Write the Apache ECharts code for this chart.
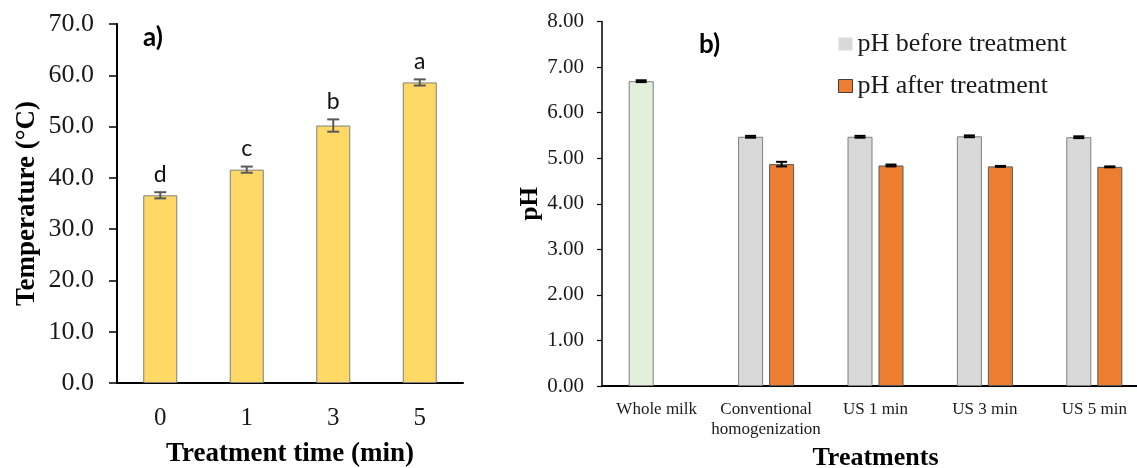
<!DOCTYPE html>
<html>
<head>
<meta charset="utf-8">
<script src="https://cdn.jsdelivr.net/npm/echarts@6/dist/echarts.min.js"></script>
<style>
html,body{margin:0;padding:0;background:#fff;}
#chart{width:1137px;height:468px;}
</style>
</head>
<body>
<div id="chart"></div>
<script>
// ---- Panel a) data ----
const tempCategories = ['0', '1', '3', '5'];
const tempValues = [36.6, 41.6, 50.2, 58.6];
const tempErrors = [0.6, 0.6, 1.2, 0.6];
const tempLetters = ['d', 'c', 'b', 'a'];

// ---- Panel b) data ----
const phCategories = ['Whole milk', 'Conventional\nhomogenization', 'US 1 min', 'US 3 min', 'US 5 min'];
const phBefore = [6.69, 5.47, 5.47, 5.48, 5.46];
const phBeforeErr = [0.02, 0.02, 0.02, 0.02, 0.02];
const phAfter = [null, 4.87, 4.84, 4.82, 4.81];
const phAfterErr = [null, 0.05, 0.02, 0.01, 0.01];

const serif = 'Liberation Serif';
const txt = '#1a1a1a';

function errRender(offset, capW, color, lw) {
  return function (params, api) {
    const cat = api.value(0), v = api.value(1), e = api.value(2);
    const c = api.coord([cat, v]);
    const x = c[0] + offset;
    const top = api.coord([cat, v + e])[1];
    const bot = api.coord([cat, v - e])[1];
    const st = { stroke: color, lineWidth: lw };
    return {
      type: 'group',
      children: [
        { type: 'line', shape: { x1: x, y1: top, x2: x, y2: bot }, style: st },
        { type: 'line', shape: { x1: x - capW / 2, y1: top, x2: x + capW / 2, y2: top }, style: st },
        { type: 'line', shape: { x1: x - capW / 2, y1: bot, x2: x + capW / 2, y2: bot }, style: st }
      ]
    };
  };
}

function errData(vals, errs) {
  const out = [];
  vals.forEach((v, i) => { if (v != null) out.push([i, v, errs[i]]); });
  return out;
}

const chart = echarts.init(document.getElementById('chart'));
chart.setOption({
  animation: false,
  backgroundColor: '#fff',
  grid: [
    { left: 117, top: 24, width: 346, height: 359, containLabel: false, outerBoundsMode: 'none' },
    { left: 602, top: 21.5, width: 547, height: 364.5, containLabel: false, outerBoundsMode: 'none' }
  ],
  legend: {
    data: [
      { name: 'pH before treatment', itemStyle: { borderWidth: 0 } },
      { name: 'pH after treatment', itemStyle: { borderColor: '#404040', borderWidth: 1 } }
    ],
    orient: 'vertical',
    left: 833, top: 26,
    itemWidth: 14, itemHeight: 13, itemGap: 16, itemTextGap: 4,
    icon: 'rect',
    textStyle: { fontFamily: serif, fontSize: 26, color: txt }
  },
  xAxis: [
    {
      gridIndex: 0, type: 'category', data: tempCategories,
      axisLine: { lineStyle: { color: '#000', width: 2 } },
      axisTick: { show: false },
      axisLabel: { fontFamily: serif, fontSize: 25, color: txt, margin: 23 },
      name: 'Treatment time (min)', nameLocation: 'middle', nameGap: 58,
      nameTextStyle: { fontFamily: serif, fontSize: 27, fontWeight: 'bold', color: '#000' }
    },
    {
      gridIndex: 1, type: 'category', data: phCategories,
      axisLine: { lineStyle: { color: '#000', width: 2 } },
      axisTick: { show: false },
      axisLabel: { fontFamily: serif, fontSize: 17, color: txt, margin: 14, lineHeight: 20, interval: 0 },
      name: 'Treatments', nameLocation: 'middle', nameGap: 59,
      nameTextStyle: { fontFamily: serif, fontSize: 26, fontWeight: 'bold', color: '#000' }
    }
  ],
  yAxis: [
    {
      gridIndex: 0, type: 'value', min: 0, max: 70, interval: 10,
      axisLine: { show: true, lineStyle: { color: '#000', width: 2 } },
      axisTick: { show: true, length: 8, lineStyle: { color: '#000', width: 1.5 } },
      splitLine: { show: false },
      axisLabel: { fontFamily: serif, fontSize: 26, color: txt, margin: 23, formatter: v => v.toFixed(1) },
      name: 'Temperature (°C)', nameLocation: 'middle', nameGap: 76, nameRotate: 90,
      nameTextStyle: { fontFamily: serif, fontSize: 27, fontWeight: 'bold', color: '#000' }
    },
    {
      gridIndex: 1, type: 'value', min: 0, max: 8, interval: 1,
      axisLine: { show: true, lineStyle: { color: '#000', width: 1.5 } },
      axisTick: { show: true, length: 5, lineStyle: { color: '#000', width: 1.2 } },
      splitLine: { show: false },
      axisLabel: { fontFamily: serif, fontSize: 21, color: txt, margin: 18, formatter: v => v.toFixed(2) },
      name: 'pH', nameLocation: 'middle', nameGap: 56, nameRotate: 90,
      nameTextStyle: { fontFamily: serif, fontSize: 25, fontWeight: 'bold', color: '#000' }
    }
  ],
  graphic: [
    { type: 'text', left: 143, top: 25, style: { text: 'a)', font: 'bold 26px Lato', fill: '#000' } },
    { type: 'text', left: 699, top: 32, style: { text: 'b)', font: 'bold 26px Lato', fill: '#000' } }
  ],
  series: [
    {
      type: 'bar', xAxisIndex: 0, yAxisIndex: 0, data: tempValues, barWidth: 34,
      itemStyle: { color: '#FFD966', borderColor: '#7F7F7F', borderWidth: 1 }
    },
    {
      type: 'custom', xAxisIndex: 0, yAxisIndex: 0, z: 5,
      data: errData(tempValues, tempErrors),
      renderItem: errRender(0, 12, '#595959', 2)
    },
    {
      type: 'custom', xAxisIndex: 0, yAxisIndex: 0, z: 5,
      data: tempValues.map((v, i) => [i, v + tempErrors[i]]),
      renderItem: function (params, api) {
        const c = api.coord([api.value(0), api.value(1)]);
        return {
          type: 'text',
          style: { text: tempLetters[params.dataIndex], x: c[0], y: c[1] - 18, align: 'center', verticalAlign: 'middle', font: '23px Lato', fill: '#111' }
        };
      }
    },
    {
      name: 'pH before treatment', type: 'bar', xAxisIndex: 1, yAxisIndex: 1,
      barWidth: 25, barGap: '24%',
      data: phBefore.map((v, i) => i === 0 ? { value: v, itemStyle: { color: '#E2EFDA' } } : v),
      itemStyle: { color: '#D9D9D9', borderColor: '#7F7F7F', borderWidth: 1 }
    },
    {
      name: 'pH after treatment', type: 'bar', xAxisIndex: 1, yAxisIndex: 1,
      barWidth: 25, barGap: '24%',
      data: phAfter,
      itemStyle: { color: '#ED7D31', borderColor: '#595959', borderWidth: 1 }
    },
    {
      type: 'custom', xAxisIndex: 1, yAxisIndex: 1, z: 5,
      data: errData(phBefore, phBeforeErr),
      renderItem: errRender(-15.5, 11, '#000', 2)
    },
    {
      type: 'custom', xAxisIndex: 1, yAxisIndex: 1, z: 5,
      data: errData(phAfter, phAfterErr),
      renderItem: errRender(15.5, 11, '#000', 2)
    }
  ]
});
</script>
</body>
</html>
